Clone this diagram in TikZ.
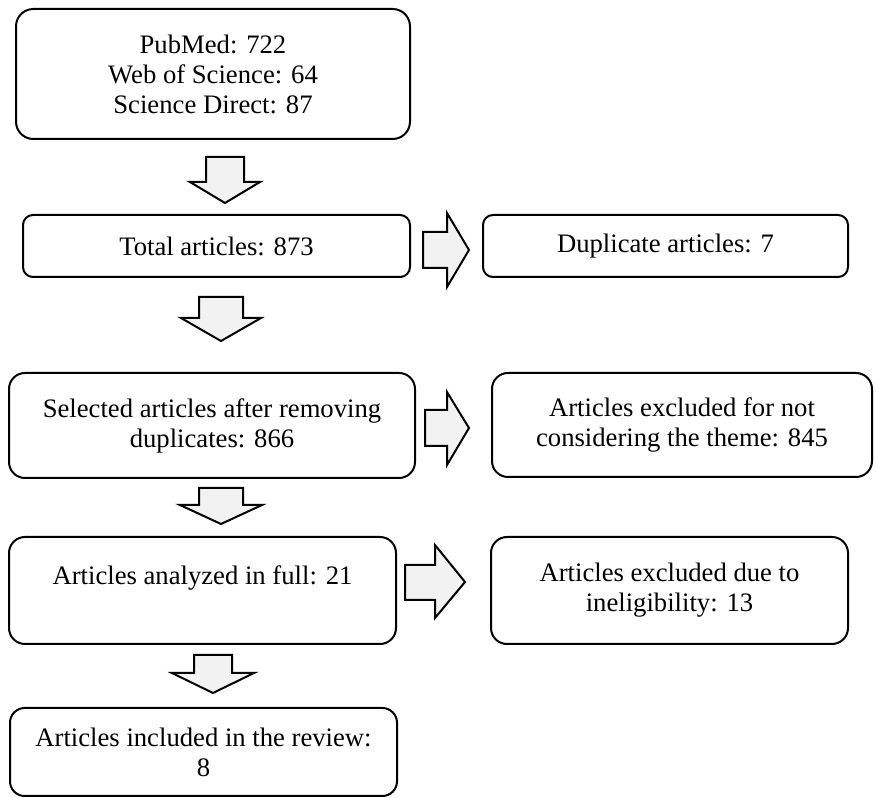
\documentclass[tikz,border=0pt]{standalone}
\usepackage{fontspec}
\setmainfont{Liberation Serif}
\usepackage{tikz}
\definecolor{arrowgray}{RGB}{242,242,242}

\begin{document}
\begin{tikzpicture}[x=0.75pt,y=0.75pt,yscale=-1,xscale=1,
  flowbox/.style={draw, line width=1.5pt, align=center, inner sep=0pt, font=\fontsize{20}{22.5}\selectfont},
  blockarrow/.style={draw, line width=1.5pt, fill=arrowgray, line join=miter}]
\useasboundingbox (0,0) rectangle (876,798);

%Rounded Rect [id:pubmed]
\node[flowbox, minimum width=295.5pt, minimum height=97.5pt, rounded corners=13pt] (pubmed) at (213,74) {PubMed: 722\\Web of Science: 64\\Science Direct: 87};
%Rounded Rect [id:total]
\node[flowbox, minimum width=290.25pt, minimum height=46.5pt, rounded corners=7.5pt] (total) at (216.5,246) {Total articles: 873};
%Rounded Rect [id:dup]
\node[flowbox, minimum width=273.75pt, minimum height=46.5pt, rounded corners=7.5pt] (dup) at (665.5,246) {Duplicate articles: 7};
%Rounded Rect [id:selected]
\node[flowbox, minimum width=304.5pt, minimum height=78.75pt, rounded corners=12pt] (selected) at (212,425.5) {Selected articles after removing\\duplicates: 866};
%Rounded Rect [id:theme]
\node[flowbox, minimum width=285pt, minimum height=78pt, rounded corners=12pt] (theme) at (682,425) {Articles excluded for not\\considering the theme: 845};
%Rounded Rect [id:analyzed]
\node[flowbox, minimum width=290.25pt, minimum height=80.25pt, rounded corners=12pt] (analyzed) at (202.5,590.5) {Articles analyzed in full: 21\\~};
%Rounded Rect [id:inelig]
\node[flowbox, minimum width=267.75pt, minimum height=80.25pt, rounded corners=12pt] (inelig) at (669.5,590.5) {Articles excluded due to\\ineligibility: 13};
%Rounded Rect [id:included]
\node[flowbox, minimum width=290.25pt, minimum height=66pt, rounded corners=11pt] (included) at (203.5,752) {Articles included in the review:\\8};

%Shape: Down Arrow [id:pubmed-total]
\draw[blockarrow] (206,157) -- (244,157) -- (244,182) -- (260,182) -- (225,203) -- (190,182) -- (206,182) -- cycle ;
%Shape: Down Arrow [id:total-selected]
\draw[blockarrow] (199,297) -- (243,297) -- (243,318) -- (261,318) -- (221,341) -- (181,318) -- (199,318) -- cycle ;
%Shape: Down Arrow [id:selected-analyzed]
\draw[blockarrow] (199,488) -- (243,488) -- (243,505) -- (262,505) -- (221,524) -- (180,505) -- (199,505) -- cycle ;
%Shape: Down Arrow [id:analyzed-included]
\draw[blockarrow] (194,655) -- (232,655) -- (232,673) -- (254,673) -- (213,693) -- (172,673) -- (194,673) -- cycle ;

%Shape: Right Arrow [id:total-dup]
\draw[blockarrow] (423,232) -- (447,232) -- (447,213) -- (469,250) -- (447,287) -- (447,268) -- (423,268) -- cycle ;
%Shape: Right Arrow [id:selected-theme]
\draw[blockarrow] (425,410) -- (447,410) -- (447,392) -- (469,428) -- (447,465) -- (447,446) -- (425,446) -- cycle ;
%Shape: Right Arrow [id:analyzed-inelig]
\draw[blockarrow] (405,565) -- (435,565) -- (435,545) -- (465,582) -- (435,618) -- (435,600) -- (405,600) -- cycle ;

\end{tikzpicture}
\end{document}
